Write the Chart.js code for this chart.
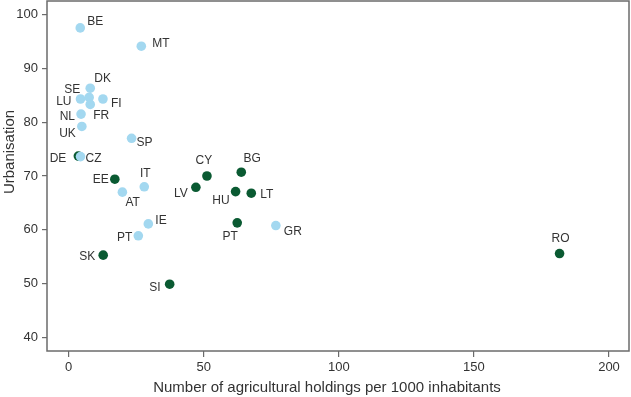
<!DOCTYPE html>
<html>
<head>
<meta charset="utf-8">
<script src="https://cdn.jsdelivr.net/npm/chart.js@4.4.1/dist/chart.umd.min.js"></script>
<style>
  html, body { margin: 0; padding: 0; background: #fff; }
  #wrap { width: 631px; height: 397px; }
</style>
</head>
<body>
<div id="wrap"><canvas id="chart"></canvas></div>
<script>
// Light blue group
const blueNames = ['BE', 'MT', 'DK', 'SE', 'LU', 'FI', 'FR', 'NL', 'UK', 'SP', 'CZ', 'IT', 'AT', 'IE', 'PT', 'GR'];
const blueX = [4.3, 26.9, 8.0, 7.6, 4.4, 12.7, 8.0, 4.6, 4.9, 23.3, 4.4, 28.0, 19.9, 29.5, 25.8, 76.7];
const blueY = [97.5, 94.1, 86.3, 84.6, 84.3, 84.3, 83.3, 81.5, 79.2, 77.0, 73.6, 68.0, 67.0, 61.1, 58.9, 60.8];

// Dark green group
const greenNames = ['DE', 'EE', 'LV', 'CY', 'BG', 'HU', 'LT', 'PT', 'SK', 'SI', 'RO'];
const greenX = [3.6, 17.1, 47.1, 51.2, 63.9, 61.8, 67.6, 62.4, 12.8, 37.4, 181.7];
const greenY = [73.7, 69.4, 67.9, 70.0, 70.7, 67.1, 66.8, 61.3, 55.3, 49.9, 55.6];

const xTicks = [0, 50, 100, 150, 200];
const yTicks = [40, 50, 60, 70, 80, 90, 100];

const xTitle = 'Number of agricultural holdings per 1000 inhabitants';
const yTitle = 'Urbanisation';

// label placement: [dx, dy, align] relative to the point
const bluePlace = [
    [7, -6, 'left'], [11, -3, 'left'], [4, -10, 'left'], [-9, -8, 'right'],
    [-9, 3, 'right'], [8, 5, 'left'], [3, 11, 'left'], [-6, 3, 'right'],
    [-6, 7, 'right'], [5, 4, 'left'], [5, 2, 'left'], [1, -13, 'center'],
    [3, 11, 'left'], [7, -3, 'left'], [-6, 2, 'right'], [8, 6, 'left']
];
const greenPlace = [
    [-12, 3, 'right'], [-6, 0, 'right'], [-8, 6, 'right'], [-3, -15, 'center'],
    [11, -14, 'center'], [-6, 9, 'right'], [9, 1, 'left'], [-7, 14, 'center'],
    [-8, 2, 'right'], [-9, 3, 'right'], [1, -15, 'center']
];

const textColor = '#333333';
const axisColor = '#6b6b6b';
const fontFamily = '"Liberation Sans", Arial, sans-serif';

const pointLabels = {
    id: 'pointLabels',
    afterDatasetsDraw(chart) {
        const ctx = chart.ctx;
        ctx.save();
        ctx.font = '12px ' + fontFamily;
        ctx.fillStyle = textColor;
        ctx.textBaseline = 'middle';
        chart.data.datasets.forEach((ds, i) => {
            const meta = chart.getDatasetMeta(i);
            meta.data.forEach((pt, j) => {
                const p = ds.place[j];
                ctx.textAlign = p[2];
                ctx.fillText(ds.names[j], pt.x + p[0], pt.y + p[1]);
            });
        });
        ctx.restore();
    }
};

// box around the plot and the two axis titles
const frame = {
    id: 'frame',
    afterDatasetsDraw(chart) {
        const a = chart.chartArea;
        const ctx = chart.ctx;
        ctx.save();
        ctx.strokeStyle = axisColor;
        ctx.lineWidth = 1.5;
        ctx.strokeRect(a.left, a.top, a.right - a.left, a.bottom - a.top);

        ctx.fillStyle = textColor;
        ctx.font = '15px ' + fontFamily;
        ctx.textAlign = 'center';
        ctx.textBaseline = 'middle';
        ctx.fillText(xTitle, 327, 388);
        ctx.translate(10, 152);
        ctx.rotate(-Math.PI / 2);
        ctx.fillText(yTitle, 0, 0);
        ctx.restore();
    }
};

new Chart(document.getElementById('chart'), {
    type: 'scatter',
    data: {
        datasets: [
            {
                names: blueNames,
                place: bluePlace,
                data: blueX.map((x, i) => ({ x: x, y: blueY[i] })),
                backgroundColor: '#a3d8f0',
                borderWidth: 0,
                pointRadius: 4.8
            },
            {
                names: greenNames,
                place: greenPlace,
                data: greenX.map((x, i) => ({ x: x, y: greenY[i] })),
                backgroundColor: '#0a5a32',
                borderWidth: 0,
                pointRadius: 4.8
            }
        ]
    },
    options: {
        responsive: true,
        maintainAspectRatio: false,
        animation: false,
        layout: { autoPadding: false, padding: { top: 1, right: 2, left: 0, bottom: 0 } },
        plugins: {
            legend: { display: false },
            tooltip: { enabled: false }
        },
        scales: {
            x: {
                type: 'linear',
                min: -8,
                max: 207.4,
                afterBuildTicks: s => { s.ticks = xTicks.map(v => ({ value: v })); },
                afterFit: s => { s.height = 46; s.paddingLeft = 0; s.paddingRight = 0; },
                grid: { drawOnChartArea: false, drawTicks: true, tickLength: 6, color: axisColor, lineWidth: 1.2 },
                border: { display: false },
                ticks: { color: textColor, font: { family: fontFamily, size: 13 }, padding: 3, maxRotation: 0 }
            },
            y: {
                min: 37.5,
                max: 102.5,
                afterBuildTicks: s => { s.ticks = yTicks.map(v => ({ value: v })); },
                afterFit: s => { s.width = 47; s.paddingTop = 0; s.paddingBottom = 0; },
                grid: { drawOnChartArea: false, drawTicks: true, tickLength: 5, color: axisColor, lineWidth: 1.2 },
                border: { display: false },
                ticks: { color: textColor, font: { family: fontFamily, size: 13 }, padding: 4 }
            }
        }
    },
    plugins: [pointLabels, frame]
});
</script>
</body>
</html>
